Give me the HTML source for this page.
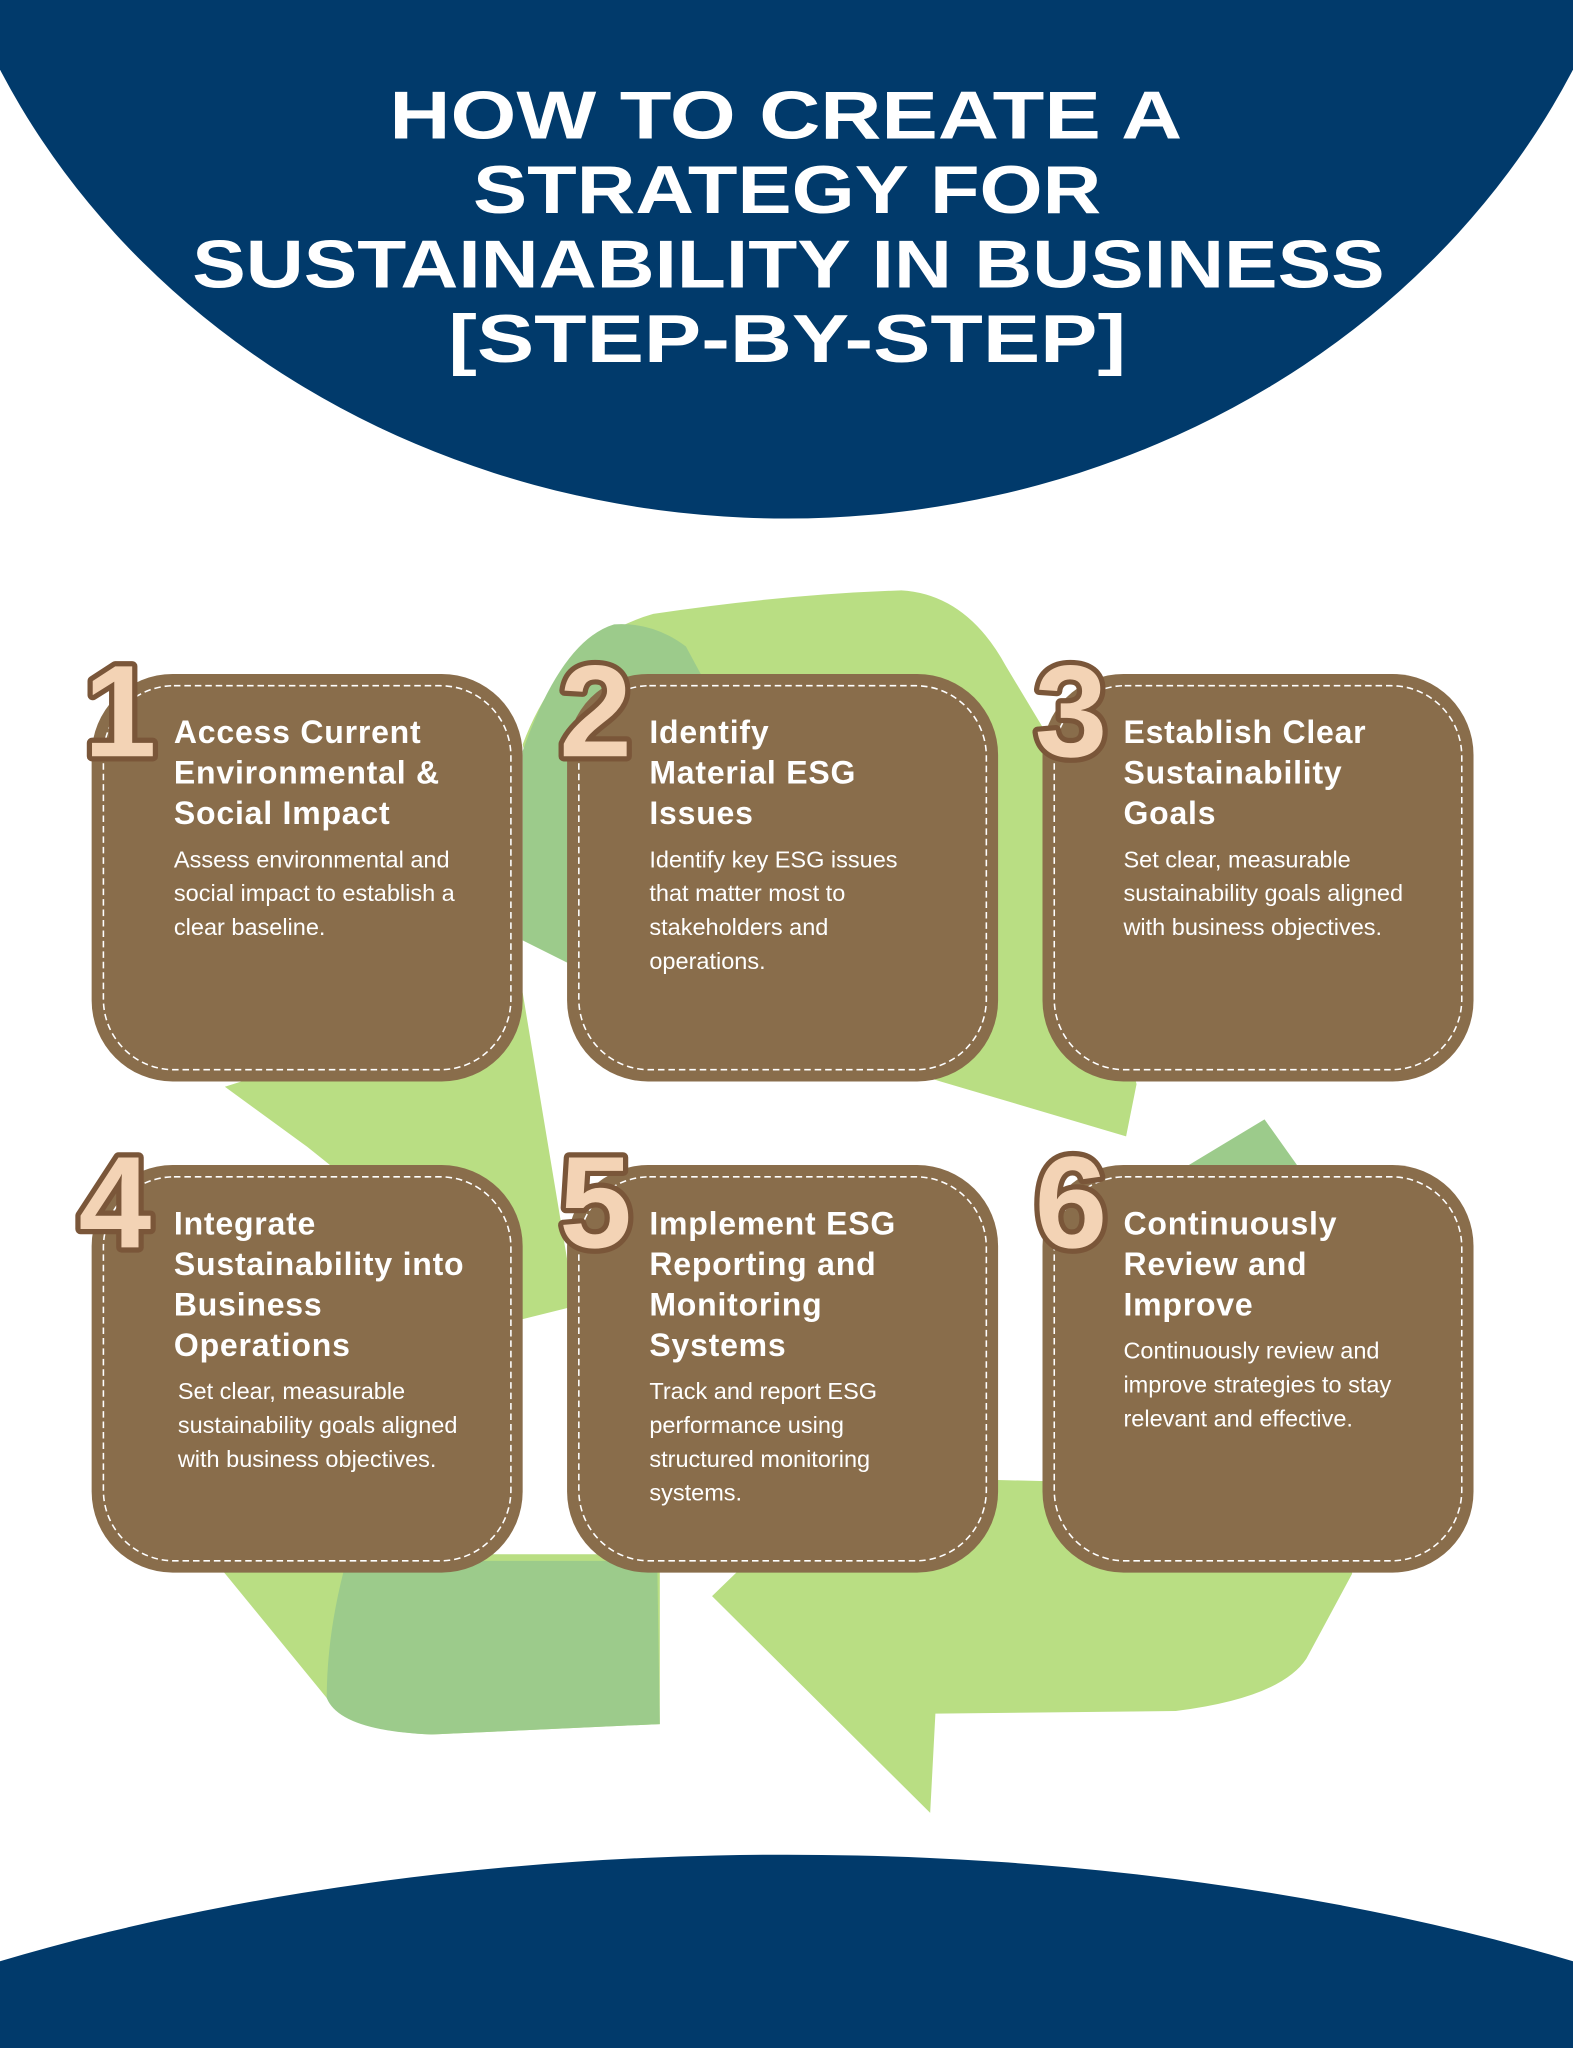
<!DOCTYPE html>
<html><head><meta charset="utf-8"><style>
html,body{margin:0;padding:0;background:#fff;width:1573px;height:2048px;overflow:hidden;}
svg{display:block;}
.t{font-family:"Liberation Sans",sans-serif;font-weight:bold;fill:#fff;}
.ct{font-family:"Liberation Sans",sans-serif;font-weight:bold;fill:#fff;font-size:24.5px;letter-spacing:0.6px;}
.cb{font-family:"Liberation Sans",sans-serif;fill:#fff;font-size:18px;}
.n{font-family:"Liberation Sans",sans-serif;font-weight:bold;font-size:100px;fill:#f3d3b5;stroke:#7a5639;stroke-width:8;paint-order:stroke;stroke-linejoin:round;}
</style></head><body>
<svg width="1573" height="2048" viewBox="0 0 1204 1568" xmlns="http://www.w3.org/2000/svg">
<rect width="1204" height="1568" fill="#fff"/>
<ellipse cx="602" cy="-200" rx="665" ry="597" fill="#013a6b"/>
<ellipse cx="602" cy="1920" rx="1100" ry="500" fill="#013a6b"/>

<text class="t" x="298" y="106" font-size="52" textLength="607" lengthAdjust="spacingAndGlyphs">HOW TO CREATE A</text>
<text class="t" x="362" y="163" font-size="52" textLength="481" lengthAdjust="spacingAndGlyphs">STRATEGY FOR</text>
<text class="t" x="147" y="220" font-size="52" textLength="913" lengthAdjust="spacingAndGlyphs">SUSTAINABILITY IN BUSINESS</text>
<text class="t" x="343" y="277" font-size="52" textLength="519" lengthAdjust="spacingAndGlyphs">[STEP-BY-STEP]</text>

<path d="M400 570 Q430 490 500 470 Q600 455 690 452 Q740 455 770 510 L800 560 L870 830 L862 870 L720 828 L600 790 L440 740 Z" fill="#b9de83"/>
<path d="M400 575 Q430 490 470 478 Q500 476 525 495 L560 560 L440 740 L400 720 Z" fill="#9ccb8b"/>
<path d="M172 832 L400 760 L440 1000 L400 1010 L235 878 Z" fill="#b9de83"/>
<path d="M160 1190 L505 1190 L505 1320 L330 1328 Q265 1325 250 1300 Z" fill="#b9de83"/>
<path d="M265 1195 L503 1195 L505 1320 L330 1328 Q260 1325 250 1300 Q250 1250 265 1195 Z" fill="#9ccb8b"/>
<path d="M545 1222 L640 1130 L1040 1140 L1035 1205 L1000 1270 Q980 1300 900 1310 L716 1312 L712 1388 Z" fill="#b9de83"/>
<path d="M905 895 L968 857 L995 895 Z" fill="#9ccb8b"/>

<g>
<rect x="70" y="516" width="330" height="312" rx="62" fill="#896d4b"/>
<rect x="79" y="525" width="312" height="294" rx="54" fill="none" stroke="#fff" stroke-width="1.2" stroke-dasharray="5 3"/>
<rect x="434" y="516" width="330" height="312" rx="62" fill="#896d4b"/>
<rect x="443" y="525" width="312" height="294" rx="54" fill="none" stroke="#fff" stroke-width="1.2" stroke-dasharray="5 3"/>
<rect x="798" y="516" width="330" height="312" rx="62" fill="#896d4b"/>
<rect x="807" y="525" width="312" height="294" rx="54" fill="none" stroke="#fff" stroke-width="1.2" stroke-dasharray="5 3"/>
<rect x="70" y="892" width="330" height="312" rx="62" fill="#896d4b"/>
<rect x="79" y="901" width="312" height="294" rx="54" fill="none" stroke="#fff" stroke-width="1.2" stroke-dasharray="5 3"/>
<rect x="434" y="892" width="330" height="312" rx="62" fill="#896d4b"/>
<rect x="443" y="901" width="312" height="294" rx="54" fill="none" stroke="#fff" stroke-width="1.2" stroke-dasharray="5 3"/>
<rect x="798" y="892" width="330" height="312" rx="62" fill="#896d4b"/>
<rect x="807" y="901" width="312" height="294" rx="54" fill="none" stroke="#fff" stroke-width="1.2" stroke-dasharray="5 3"/>
</g>

<text class="n" x="64" y="579">1</text>
<text class="n" x="428" y="579">2</text>
<text class="n" x="792" y="579">3</text>
<text class="n" x="60" y="955">4</text>
<text class="n" x="428" y="955">5</text>
<text class="n" x="792" y="955">6</text>

<text class="ct" x="133" y="569">Access Current</text>
<text class="ct" x="133" y="600">Environmental &amp;</text>
<text class="ct" x="133" y="631">Social Impact</text>
<text class="cb" x="133" y="664">Assess environmental and</text>
<text class="cb" x="133" y="690">social impact to establish a</text>
<text class="cb" x="133" y="716">clear baseline.</text>

<text class="ct" x="497" y="569">Identify</text>
<text class="ct" x="497" y="600">Material ESG</text>
<text class="ct" x="497" y="631">Issues</text>
<text class="cb" x="497" y="664">Identify key ESG issues</text>
<text class="cb" x="497" y="690">that matter most to</text>
<text class="cb" x="497" y="716">stakeholders and</text>
<text class="cb" x="497" y="742">operations.</text>

<text class="ct" x="860" y="569">Establish Clear</text>
<text class="ct" x="860" y="600">Sustainability</text>
<text class="ct" x="860" y="631">Goals</text>
<text class="cb" x="860" y="664">Set clear, measurable</text>
<text class="cb" x="860" y="690">sustainability goals aligned</text>
<text class="cb" x="860" y="716">with business objectives.</text>

<text class="ct" x="133" y="945">Integrate</text>
<text class="ct" x="133" y="976">Sustainability into</text>
<text class="ct" x="133" y="1007">Business</text>
<text class="ct" x="133" y="1038">Operations</text>
<text class="cb" x="136" y="1071">Set clear, measurable</text>
<text class="cb" x="136" y="1097">sustainability goals aligned</text>
<text class="cb" x="136" y="1123">with business objectives.</text>

<text class="ct" x="497" y="945">Implement ESG</text>
<text class="ct" x="497" y="976">Reporting and</text>
<text class="ct" x="497" y="1007">Monitoring</text>
<text class="ct" x="497" y="1038">Systems</text>
<text class="cb" x="497" y="1071">Track and report ESG</text>
<text class="cb" x="497" y="1097">performance using</text>
<text class="cb" x="497" y="1123">structured monitoring</text>
<text class="cb" x="497" y="1149">systems.</text>

<text class="ct" x="860" y="945">Continuously</text>
<text class="ct" x="860" y="976">Review and</text>
<text class="ct" x="860" y="1007">Improve</text>
<text class="cb" x="860" y="1040">Continuously review and</text>
<text class="cb" x="860" y="1066">improve strategies to stay</text>
<text class="cb" x="860" y="1092">relevant and effective.</text>
</svg>
</body></html>
